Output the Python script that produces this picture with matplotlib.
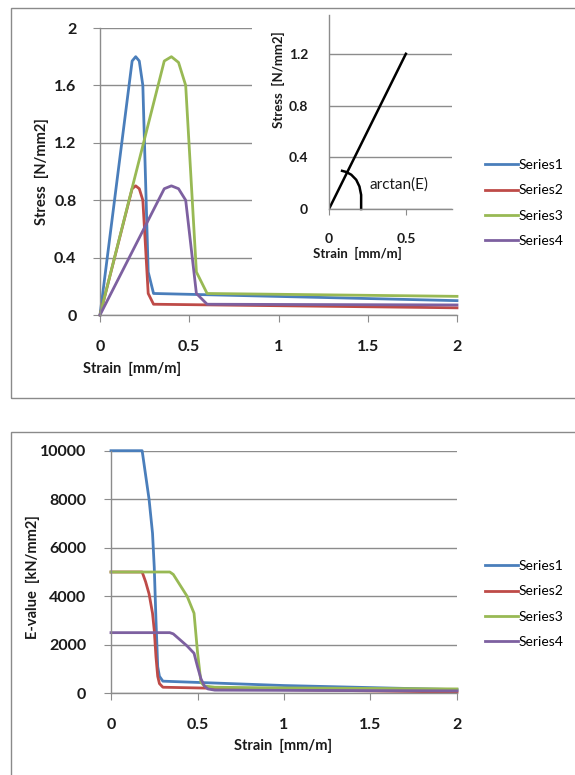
import matplotlib
matplotlib.use("Agg")
import matplotlib.pyplot as plt
from matplotlib.patches import Rectangle

# ---------------- data ----------------
series_names = ["Series1", "Series2", "Series3", "Series4"]
colors = ["#4A7EBB", "#BE4B48", "#98B954", "#7D60A0"]

# top chart: stress vs strain
s1_x = [0, 0.18, 0.20, 0.22, 0.24, 0.27, 0.30, 2.0]
s1_y = [0, 1.77, 1.80, 1.77, 1.60, 0.30, 0.15, 0.10]
s2_x = [0, 0.18, 0.20, 0.22, 0.24, 0.27, 0.30, 2.0]
s2_y = [0, 0.88, 0.90, 0.88, 0.80, 0.15, 0.075, 0.05]
s3_x = [0, 0.36, 0.40, 0.44, 0.48, 0.54, 0.60, 2.0]
s3_y = [0, 1.77, 1.80, 1.76, 1.60, 0.30, 0.15, 0.13]
s4_x = [0, 0.36, 0.40, 0.44, 0.48, 0.54, 0.60, 2.0]
s4_y = [0, 0.88, 0.90, 0.88, 0.80, 0.15, 0.075, 0.07]

# inset: linear stress-strain with arctan(E) arc
inset_x = [0, 0.5]
inset_y = [0, 1.2]
arc_x = [0.085, 0.113, 0.145, 0.177, 0.198, 0.209, 0.209]
arc_y = [0.295, 0.286, 0.265, 0.226, 0.174, 0.109, 0.0]

# bottom chart: E-value vs strain
e1_x = [0, 0.18, 0.20, 0.22, 0.24, 0.25, 0.26, 0.27, 0.28, 0.30, 1.0, 2.0]
e1_y = [10000, 10000, 9000, 8000, 6600, 5200, 3000, 1100, 700, 500, 320, 150]
e2_x = [0, 0.18, 0.20, 0.22, 0.24, 0.25, 0.26, 0.27, 0.28, 0.30, 1.0, 2.0]
e2_y = [5000, 5000, 4600, 4100, 3300, 2600, 1500, 700, 400, 250, 150, 50]
e3_x = [0, 0.34, 0.36, 0.40, 0.44, 0.48, 0.50, 0.52, 0.54, 0.60, 1.0, 2.0]
e3_y = [5000, 5000, 4900, 4450, 4000, 3300, 1700, 450, 300, 250, 220, 180]
e4_x = [0, 0.34, 0.36, 0.40, 0.44, 0.48, 0.50, 0.52, 0.54, 0.56, 0.60, 2.0]
e4_y = [2500, 2500, 2450, 2200, 1950, 1650, 1100, 600, 300, 180, 130, 100]

top_yticks = [0, 0.4, 0.8, 1.2, 1.6, 2]
top_yticklabels = ["0", "0.4", "0.8", "1.2", "1.6", "2"]
xticks = [0, 0.5, 1, 1.5, 2]
xticklabels = ["0", "0.5", "1", "1.5", "2"]
inset_yticks = [0, 0.4, 0.8, 1.2]
inset_yticklabels = ["0", "0.4", "0.8", "1.2"]
inset_xticks = [0, 0.5]
inset_xticklabels = ["0", "0.5"]
bot_yticks = [0, 2000, 4000, 6000, 8000, 10000]
bot_yticklabels = ["0", "2000", "4000", "6000", "8000", "10000"]

# ---------------- layout ----------------
W, H = 575, 775
FONT = "Lato"
GRID = "#8C8C8C"
TXT = "#1a1a1a"
plt.rcParams["font.family"] = [FONT, "DejaVu Sans"]

fig = plt.figure(figsize=(W / 100, H / 100), dpi=100)
fig.patch.set_facecolor("white")


def box(l, t, r, b):
    return [l / W, 1 - b / H, (r - l) / W, (b - t) / H]


def fx(px):
    return px / W


def fy(py):
    return 1 - py / H


# outer chart borders
fig.patches.append(Rectangle((fx(11), fy(398)), fx(600) - fx(11), fy(8) - fy(398),
                             transform=fig.transFigure, fill=False,
                             edgecolor="#8A8A8A", lw=1.0, zorder=-1))
fig.patches.append(Rectangle((fx(11), fy(800)), fx(600) - fx(11), fy(431.5) - fy(800),
                             transform=fig.transFigure, fill=False,
                             edgecolor="#8A8A8A", lw=1.0, zorder=-1))


def style_axes(ax, ylen=5, xlen=5, ypad=9, xpad=9, size=11.5):
    for s in ["top", "right"]:
        ax.spines[s].set_visible(False)
    ax.spines["left"].set_color(GRID)
    ax.spines["bottom"].set_color(GRID)
    ax.spines["left"].set_linewidth(1.0)
    ax.spines["bottom"].set_linewidth(1.0)
    ax.tick_params(axis="y", direction="out", length=ylen, color=GRID, pad=ypad,
                   labelsize=size)
    ax.tick_params(axis="x", direction="out", length=xlen, color=GRID, pad=xpad,
                   labelsize=size)
    for lab in ax.get_xticklabels() + ax.get_yticklabels():
        lab.set_fontweight("bold")
        lab.set_color(TXT)
    ax.yaxis.grid(True, color=GRID, lw=1.0)
    ax.set_axisbelow(True)


# ---------- top chart ----------
ax1 = fig.add_axes(box(100, 28, 457, 315))
ax1.set_zorder(0)
ax1.patch.set_alpha(0)
lines = []
for xs, ys, c, n in zip([s1_x, s2_x, s3_x, s4_x], [s1_y, s2_y, s3_y, s4_y], colors, series_names):
    ln, = ax1.plot(xs, ys, color=c, lw=2.0, label=n, solid_joinstyle="round", clip_on=False)
    lines.append(ln)
ax1.set_xlim(0, 2)
ax1.set_ylim(0, 2)
ax1.set_xticks(xticks)
ax1.set_xticklabels(xticklabels)
ax1.set_yticks(top_yticks)
ax1.set_yticklabels(top_yticklabels)
style_axes(ax1, ypad=12, xpad=13)
fig.text(fx(42), fy(172), "Stress  [N/mm2]", rotation=90, ha="center", va="center",
         fontsize=10.5, fontweight="bold", color=TXT)
fig.text(fx(132), fy(369), "Strain  [mm/m]", ha="center", va="center",
         fontsize=10.5, fontweight="bold", color=TXT)

leg1 = ax1.legend(handles=lines, loc="center left", bbox_to_anchor=(fx(485), fy(203)),
                  bbox_transform=fig.transFigure, frameon=False, fontsize=10,
                  handlelength=2.4, handletextpad=0.05, labelspacing=0.95,
                  borderpad=0, borderaxespad=0)

# white background of the inset chart (hides main gridlines behind it)
ax_bg = fig.add_axes(box(252, 10, 462, 268))
ax_bg.set_zorder(2)
ax_bg.set_facecolor("white")
ax_bg.set_xticks([])
ax_bg.set_yticks([])
for s in ax_bg.spines.values():
    s.set_visible(False)

ax_in = fig.add_axes(box(329, 15, 452, 209))
ax_in.set_zorder(3)
ax_in.patch.set_alpha(0)
ax_in.plot(inset_x, inset_y, color="black", lw=1.8)
ax_in.plot(arc_x, arc_y, color="black", lw=1.8, solid_joinstyle="round", clip_on=False)
ax_in.text(0.262, 0.19, "arctan(E)", fontsize=11, ha="left", va="center", color=TXT)
ax_in.set_xlim(0, 0.8)
ax_in.set_ylim(0, 1.5)
ax_in.set_xticks(inset_xticks)
ax_in.set_xticklabels(inset_xticklabels)
ax_in.set_yticks(inset_yticks)
ax_in.set_yticklabels(inset_yticklabels)
style_axes(ax_in, ylen=0, xlen=4, ypad=15, xpad=13, size=10)
ax_in.text(fx(278), fy(80), "Stress  [N/mm2]", rotation=90, ha="center", va="center",
           fontsize=9.5, fontweight="bold", color=TXT, transform=fig.transFigure)
ax_in.text(fx(357), fy(253), "Strain  [mm/m]", ha="center", va="center",
           fontsize=9.5, fontweight="bold", color=TXT, transform=fig.transFigure)

# ---------- bottom chart ----------
ax2 = fig.add_axes(box(111, 450.7, 457, 693.3))
lines2 = []
for xs, ys, c, n in zip([e1_x, e2_x, e3_x, e4_x], [e1_y, e2_y, e3_y, e4_y], colors, series_names):
    ln, = ax2.plot(xs, ys, color=c, lw=2.0, label=n, solid_joinstyle="round", clip_on=False)
    lines2.append(ln)
ax2.set_xlim(0, 2)
ax2.set_ylim(0, 10000)
ax2.set_xticks(xticks)
ax2.set_xticklabels(xticklabels)
ax2.set_yticks(bot_yticks)
ax2.set_yticklabels(bot_yticklabels)
style_axes(ax2, ypad=13, xpad=13)
fig.text(fx(33), fy(577), "E-value  [kN/mm2]", rotation=90, ha="center", va="center",
         fontsize=10.5, fontweight="bold", color=TXT)
fig.text(fx(283), fy(746), "Strain  [mm/m]", ha="center", va="center",
         fontsize=10.5, fontweight="bold", color=TXT)

ax2.legend(handles=lines2, loc="center left", bbox_to_anchor=(fx(485), fy(604)),
           bbox_transform=fig.transFigure, frameon=False, fontsize=10,
           handlelength=2.4, handletextpad=0.05, labelspacing=0.95,
           borderpad=0, borderaxespad=0)

fig.savefig("out.png", dpi=100, facecolor="white")
